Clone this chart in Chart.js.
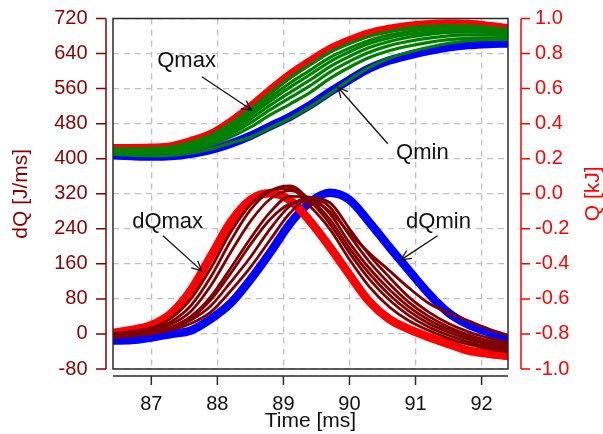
<!DOCTYPE html>
<html>
<head>
<meta charset="utf-8">
<script src="https://cdn.jsdelivr.net/npm/chart.js@4.4.1/dist/chart.umd.min.js"></script>
<style>
  html, body { margin: 0; padding: 0; background: #fff; }
  #wrap { width: 603px; height: 434px; }
</style>
</head>
<body>
<div id="wrap"><canvas id="heatChart"></canvas></div>
<script>
"use strict";

// time axis [ms], shared by every curve
const timeMs = [86.4, 86.7, 87.0, 87.3, 87.6, 87.9, 88.2, 88.5, 88.8, 89.1, 89.4,
    89.7, 90.0, 90.3, 90.6, 90.9, 91.2, 91.5, 91.8, 92.1, 92.4]

const xTicks = [87, 88, 89, 90, 91, 92]
const dqTicks = [-80, 0, 80, 160, 240, 320, 400, 480, 560, 640, 720]
const qTicks = [-1.0, -0.8, -0.6, -0.4, -0.2, 0.0, 0.2, 0.4, 0.6, 0.8, 1.0]

// heat release rate dQ [J/ms]
const dQmax = [2, 9, 20, 47, 100, 177, 255, 306, 321, 305, 258, 199, 135, 74, 34, 11, -7, -23, -38, -45, -50]
const dQmin = [-15, -14, -8, 0, 8, 34, 70, 124, 186, 252, 300, 322, 306, 255, 199, 145, 92, 48, 21, 4, -13]
const dQruns = [
    [0, 6, 14, 36, 80, 150, 232, 295, 328, 332, 292, 240, 170, 108, 62, 30, 8, -10, -24, -34, -41],
    [-2, 4, 11, 28, 65, 130, 212, 283, 326, 338, 304, 252, 185, 125, 78, 42, 16, -3, -18, -29, -36],
    [-4, 2, 8, 22, 52, 110, 186, 257, 308, 327, 307, 262, 196, 138, 90, 52, 24, 4, -12, -24, -32],
    [-6, -1, 5, 16, 40, 85, 150, 218, 278, 314, 312, 275, 208, 150, 102, 62, 32, 10, -7, -19, -28],
    [-8, -3, 2, 12, 32, 64, 118, 175, 240, 292, 311, 290, 225, 165, 115, 72, 40, 16, -2, -15, -25],
    [-9, -5, 0, 9, 24, 50, 98, 152, 215, 276, 310, 300, 240, 180, 130, 84, 50, 24, 5, -9, -20],
    [-7, -2, 4, 14, 36, 78, 138, 204, 262, 297, 303, 280, 230, 185, 145, 105, 70, 48, 30, 12, -3]
]

// cumulative heat Q [kJ]
const Qmax = [0.26, 0.26, 0.262, 0.27, 0.30, 0.34, 0.41, 0.495, 0.59, 0.68, 0.755, 0.825, 0.875, 0.915, 0.94, 0.957, 0.967, 0.971, 0.968, 0.958, 0.945]
const Qmin = [0.22, 0.215, 0.212, 0.215, 0.228, 0.25, 0.285, 0.33, 0.385, 0.44, 0.505, 0.58, 0.65, 0.715, 0.76, 0.79, 0.815, 0.835, 0.848, 0.855, 0.858]
const Qruns = [
    [0.257, 0.256, 0.258, 0.266, 0.294, 0.333, 0.400, 0.482, 0.574, 0.661, 0.735, 0.806, 0.857, 0.899, 0.926, 0.945, 0.955, 0.960, 0.958, 0.950, 0.938],
    [0.252, 0.251, 0.252, 0.259, 0.286, 0.322, 0.385, 0.462, 0.550, 0.632, 0.704, 0.777, 0.831, 0.875, 0.905, 0.926, 0.939, 0.946, 0.946, 0.940, 0.930],
    [0.248, 0.247, 0.247, 0.254, 0.278, 0.313, 0.373, 0.446, 0.530, 0.608, 0.679, 0.753, 0.810, 0.857, 0.889, 0.910, 0.924, 0.933, 0.935, 0.931, 0.922],
    [0.243, 0.241, 0.241, 0.247, 0.270, 0.302, 0.358, 0.426, 0.506, 0.579, 0.648, 0.724, 0.784, 0.834, 0.869, 0.893, 0.909, 0.920, 0.923, 0.921, 0.913],
    [0.238, 0.235, 0.235, 0.240, 0.260, 0.291, 0.341, 0.404, 0.480, 0.548, 0.615, 0.693, 0.755, 0.807, 0.845, 0.870, 0.888, 0.901, 0.907, 0.906, 0.901],
    [0.232, 0.229, 0.227, 0.232, 0.250, 0.277, 0.323, 0.380, 0.450, 0.512, 0.577, 0.657, 0.722, 0.777, 0.816, 0.843, 0.864, 0.879, 0.887, 0.889, 0.887],
    [0.225, 0.220, 0.217, 0.220, 0.233, 0.255, 0.290, 0.322, 0.376, 0.430, 0.494, 0.570, 0.650, 0.721, 0.773, 0.808, 0.836, 0.859, 0.873, 0.880, 0.880]
]

// labels with arrows, in data units (time, dQ)
const notes = [
    { text: 'Qmax', at: [87.09, 610], from: [87.765, 587], to: [88.52, 511] },
    { text: 'Qmin', at: [90.706, 399], from: [90.58, 434], to: [89.825, 563] },
    { text: 'dQmax', at: [86.71, 241], from: [87.176, 224], to: [87.765, 144] },
    { text: 'dQmin', at: [90.857, 241], from: [91.333, 224], to: [90.78, 169] }
]

const DARK_RED = '#8B0000'
const RUN_RED = '#800000'
const BOX = '#2b2b2b'
const FONT = "'Liberation Sans', Arial, sans-serif"

Chart.defaults.font.family = FONT

const toPoints = vals => timeMs.map((t, i) => ({ x: t, y: vals[i] }))

const line = (vals, color, width, axis, order) => ({
    data: toPoints(vals),
    borderColor: color,
    borderWidth: width,
    yAxisID: axis,
    order: order,
    pointRadius: 0,
    fill: false,
    clip: 0,
    cubicInterpolationMode: 'monotone',
    borderCapStyle: 'round',
    borderJoinStyle: 'round'
})

const datasets = [
    line(dQmin, '#0000FF', 8.5, 'y', 3),
    line(dQmax, '#FF0000', 8.5, 'y', 2),
    ...dQruns.map(r => line(r, RUN_RED, 2.8, 'y', 1)),
    line(Qmin, '#0000FF', 8.5, 'y1', 3),
    line(Qmax, '#FF0000', 8.5, 'y1', 2),
    ...Qruns.map(r => line(r, '#008000', 3.2, 'y1', 1))
]

const drawArrow = (ctx, x1, y1, x2, y2) => {
    const ang = Math.atan2(y2 - y1, x2 - x1)
    const len = 11, spread = 0.45
    ctx.beginPath()
    ctx.moveTo(x1, y1)
    ctx.lineTo(x2, y2)
    ctx.moveTo(x2 - len * Math.cos(ang - spread), y2 - len * Math.sin(ang - spread))
    ctx.lineTo(x2, y2)
    ctx.lineTo(x2 - len * Math.cos(ang + spread), y2 - len * Math.sin(ang + spread))
    ctx.stroke()
}

// R-style detached axes, plot box, right title and the arrow labels
const rStyle = {
    id: 'rStyle',
    afterDraw(chart) {
        const { ctx, chartArea: a, scales } = chart
        const sx = scales.x, sy = scales.y, sq = scales.y1
        ctx.save()

        ctx.strokeStyle = BOX
        ctx.lineWidth = 1.5
        ctx.strokeRect(a.left, a.top, a.right - a.left, a.bottom - a.top)

        // bottom axis
        const ax = a.bottom + 7
        ctx.beginPath()
        ctx.moveTo(a.left, ax)
        ctx.lineTo(a.right, ax)
        xTicks.forEach(v => {
            const p = sx.getPixelForValue(v)
            ctx.moveTo(p, ax)
            ctx.lineTo(p, ax + 9)
        })
        ctx.stroke()

        // left axis
        const lx = a.left - 7
        ctx.strokeStyle = DARK_RED
        ctx.beginPath()
        ctx.moveTo(lx, sy.getPixelForValue(dqTicks[0]))
        ctx.lineTo(lx, sy.getPixelForValue(dqTicks[dqTicks.length - 1]))
        dqTicks.forEach(v => {
            const p = sy.getPixelForValue(v)
            ctx.moveTo(lx, p)
            ctx.lineTo(lx - 10, p)
        })
        ctx.stroke()

        // right axis
        const rx = a.right + 13
        ctx.strokeStyle = '#FF0000'
        ctx.beginPath()
        ctx.moveTo(rx, sq.getPixelForValue(qTicks[0]))
        ctx.lineTo(rx, sq.getPixelForValue(qTicks[qTicks.length - 1]))
        qTicks.forEach(v => {
            const p = sq.getPixelForValue(v)
            ctx.moveTo(rx, p)
            ctx.lineTo(rx + 9, p)
        })
        ctx.stroke()

        // right title reads bottom to top
        ctx.fillStyle = '#FF0000'
        ctx.font = `21px ${FONT}`
        ctx.textAlign = 'center'
        ctx.textBaseline = 'middle'
        ctx.translate(593, (a.top + a.bottom) / 2)
        ctx.rotate(-Math.PI / 2)
        ctx.fillText('Q [kJ]', 0, 0)
        ctx.setTransform(1, 0, 0, 1, 0, 0)

        // notes
        ctx.fillStyle = '#111'
        ctx.strokeStyle = '#111'
        ctx.lineWidth = 1.3
        ctx.font = `22px ${FONT}`
        ctx.textAlign = 'left'
        ctx.textBaseline = 'alphabetic'
        notes.forEach(n => {
            ctx.fillText(n.text, sx.getPixelForValue(n.at[0]), sy.getPixelForValue(n.at[1]))
            drawArrow(ctx,
                sx.getPixelForValue(n.from[0]), sy.getPixelForValue(n.from[1]),
                sx.getPixelForValue(n.to[0]), sy.getPixelForValue(n.to[1]))
        })
        ctx.restore()
    }
}

// tick marks are invisible; their length only pushes the labels out
const hiddenTicks = len => ({ color: '#c0c0c0', lineWidth: 1.3, drawTicks: true, tickLength: len, tickColor: 'rgba(0,0,0,0)' })

new Chart('heatChart', {
    type: 'line',
    data: { datasets },
    plugins: [rStyle],
    options: {
        responsive: true,
        maintainAspectRatio: false,
        animation: false,
        layout: { padding: { top: 18.5 } },
        plugins: { legend: { display: false }, tooltip: { enabled: false } },
        scales: {
            x: {
                type: 'linear',
                min: 86.42,
                max: 92.4,
                afterBuildTicks: s => { s.ticks = xTicks.map(v => ({ value: v })) },
                afterFit: s => { s.height = 65 },
                grid: hiddenTicks(23),
                border: { display: false, dash: [6, 5] },
                ticks: { color: '#111', font: { size: 20 }, padding: 0, maxRotation: 0, autoSkip: false },
                title: { display: true, text: 'Time [ms]', color: '#111', font: { size: 21 }, padding: 0 }
            },
            y: {
                position: 'left',
                min: -80,
                max: 720,
                afterBuildTicks: s => { s.ticks = dqTicks.map(v => ({ value: v })) },
                afterFit: s => { s.width = 113 },
                grid: hiddenTicks(25.5),
                border: { display: false, dash: [6, 5] },
                ticks: { color: DARK_RED, font: { size: 20 }, padding: 0, autoSkip: false, callback: v => String(v) },
                title: { display: true, text: 'dQ [J/ms]', color: DARK_RED, font: { size: 21 }, padding: { top: 9, bottom: 0 } }
            },
            y1: {
                position: 'right',
                min: -1,
                max: 1,
                afterBuildTicks: s => { s.ticks = qTicks.map(v => ({ value: v })) },
                afterFit: s => { s.width = 95 },
                grid: Object.assign(hiddenTicks(27), { drawOnChartArea: false }),
                border: { display: false },
                ticks: { color: '#FF0000', font: { size: 20 }, padding: 0, autoSkip: false, callback: v => v.toFixed(1) }
            }
        }
    }
});
</script>
</body>
</html>
